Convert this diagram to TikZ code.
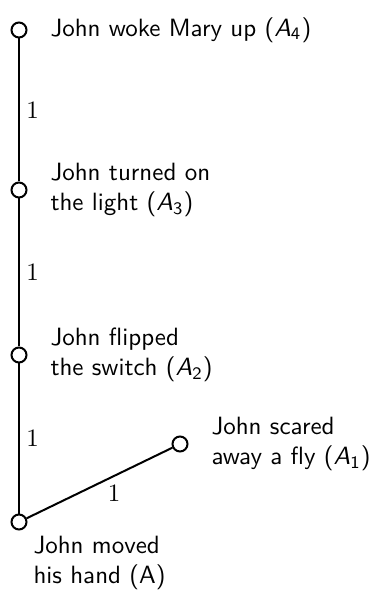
\documentclass[tikz,border=0pt]{standalone}
\newcommand{\myA}[1]{{\slshape A}\textsubscript{#1}}
\begin{document}
\begin{tikzpicture}[x=0.40pt,y=-0.40pt,
  dot/.style={circle,draw,line width=0.8pt,fill=white,minimum size=6pt,inner sep=0pt},
  lbl/.style={anchor=west,inner sep=0pt,align=left,font=\sffamily},
  edge/.style={line width=0.8pt},
  wt/.style={inner sep=2.5pt}]
\useasboundingbox (0,0) rectangle (381,590);
\node[dot] (a) at (19,522) {};
\node[dot] (a1) at (180,444) {};
\node[dot] (a2) at (19,355) {};
\node[dot] (a3) at (19,190) {};
\node[dot] (a4) at (19,30) {};
\draw[edge] (a) -- node[wt,right] {$1$} (a2);
\draw[edge] (a2) -- node[wt,right] {$1$} (a3);
\draw[edge] (a3) -- node[wt,right] {$1$} (a4);
\draw[edge] (a) -- node[wt,pos=0.6,below,yshift=-1pt] {$1$} (a1);
\node[lbl] (t4) at (50,30) {John woke Mary up (\myA{4})};
\node[lbl] (t3) at (50,190) {John turned on\\the light (\myA{3})};
\node[lbl] (t2) at (50,355) {John flipped\\the switch (\myA{2})};
\node[lbl] (t1) at (211,444) {John scared\\away a fly (\myA{1})};
\node[lbl] (t0) at (33,563) {John moved\\his hand (A)};
\end{tikzpicture}
\end{document}
